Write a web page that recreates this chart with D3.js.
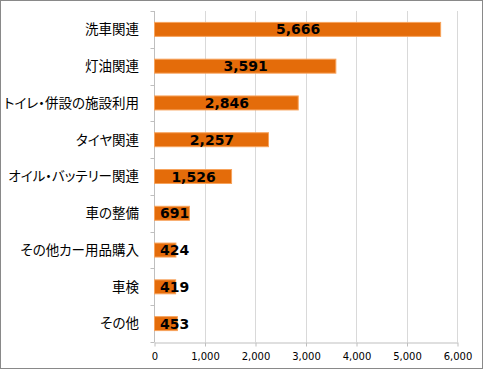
<!DOCTYPE html>
<html>
<head>
<meta charset="utf-8">
<script src="https://cdn.jsdelivr.net/npm/d3@7.9.0/dist/d3.min.js"></script>
<style>
  html, body { margin: 0; padding: 0; background: #fff; }
  svg { display: block; }
  .cat { font-family: "Noto Sans CJK JP", sans-serif; font-feature-settings: "palt"; }
</style>
</head>
<body>
<svg id="chart" width="483" height="369"></svg>
<script>
/* --- Data --- */
const categories = ['洗車関連', '灯油関連', 'トイレ・併設の施設利用', 'タイヤ関連',
  'オイル・バッテリー関連', '車の整備', 'その他カー用品購入', '車検', 'その他'];
const counts = [5666, 3591, 2846, 2257, 1526, 691, 424, 419, 453];
const xTicks = [0, 1000, 2000, 3000, 4000, 5000, 6000];

/* --- Layout --- */
const W = 483, H = 369;
const plot = { left: 154, right: 457, top: 11, bottom: 342 };

const svg = d3.select('#chart');

// outer frame
svg.append('rect')
  .attr('x', 0.5).attr('y', 0.5)
  .attr('width', W - 1).attr('height', H - 1)
  .attr('fill', '#fff')
  .attr('stroke', '#898989');

/* --- Scales --- */
const x = d3.scaleLinear().domain([0, 6000]).range([plot.left, plot.right]);
const y = d3.scaleBand().domain(categories).range([plot.top, plot.bottom]).paddingInner(0.62).paddingOuter(0.31);
const band = d3.scaleBand().domain(categories).range([plot.top, plot.bottom]);

/* --- Gridlines --- */
svg.append('g')
  .selectAll('line')
  .data(xTicks.slice(1))
  .join('line')
  .attr('x1', d => Math.round(x(d)) + 0.5)
  .attr('x2', d => Math.round(x(d)) + 0.5)
  .attr('y1', plot.top)
  .attr('y2', plot.bottom)
  .attr('stroke', '#d9d9d9');

/* --- Bottom axis --- */
const xAxis = svg.append('g')
  .attr('transform', `translate(0.5,${plot.bottom + 0.5})`)
  .call(d3.axisBottom(x).tickValues(xTicks).tickFormat(d3.format(',')).tickSize(4).tickSizeOuter(0));
xAxis.select('.domain').attr('stroke', '#bfbfbf');
xAxis.selectAll('.tick line').attr('stroke', '#bfbfbf');
xAxis.selectAll('.tick text')
  .attr('fill', '#000')
  .attr('font-family', 'Verdana, "DejaVu Sans", sans-serif')
  .attr('font-size', 10)
  .attr('dy', '1.05em');

/* --- Left axis (category boundaries) --- */
const yAxis = svg.append('g')
  .attr('transform', `translate(${plot.left + 0.5},0)`);
yAxis.append('line')
  .attr('y1', plot.top).attr('y2', plot.bottom)
  .attr('stroke', '#bfbfbf');
yAxis.selectAll('line.tk')
  .data(categories.concat(['end']))
  .join('line')
  .attr('class', 'tk')
  .attr('x1', -4).attr('x2', 0)
  .attr('y1', (d, i) => Math.round(plot.top + i * band.bandwidth()) + 0.5)
  .attr('y2', (d, i) => Math.round(plot.top + i * band.bandwidth()) + 0.5)
  .attr('stroke', '#bfbfbf');

/* --- Category labels --- */
svg.append('g')
  .selectAll('text')
  .data(categories)
  .join('text')
  .attr('class', 'cat')
  .attr('x', 139)
  .attr('y', d => band(d) + band.bandwidth() / 2)
  .attr('dy', '0.36em')
  .attr('text-anchor', 'end')
  .attr('font-size', 13.5)
  .attr('fill', '#000')
  .text(d => d);

/* --- Bars --- */
svg.append('g')
  .selectAll('rect')
  .data(counts)
  .join('rect')
  .attr('x', x(0) + 0.5)
  .attr('y', (d, i) => y(categories[i]))
  .attr('width', d => x(d) - x(0))
  .attr('height', y.bandwidth())
  .attr('fill', '#e46c0a')
  .attr('stroke', '#f7a35c')
  .attr('stroke-width', 1);

/* --- Value labels (centred; short bars keep the label inside from the left) --- */
svg.append('g')
  .selectAll('text')
  .data(counts)
  .join('text')
  .attr('y', (d, i) => y(categories[i]) + y.bandwidth() / 2)
  .attr('dy', '0.36em')
  .attr('text-anchor', 'middle')
  .attr('font-family', 'Verdana, "DejaVu Sans", sans-serif')
  .attr('font-weight', 'bold')
  .attr('font-size', 14)
  .attr('fill', '#000')
  .text(d => d3.format(',')(d))
  .attr('x', function(d) {
    const w = this.getComputedTextLength();
    return Math.max((x(0) + x(d)) / 2 + 1, x(0) + 6 + w / 2);
  });
</script>
</body>
</html>
